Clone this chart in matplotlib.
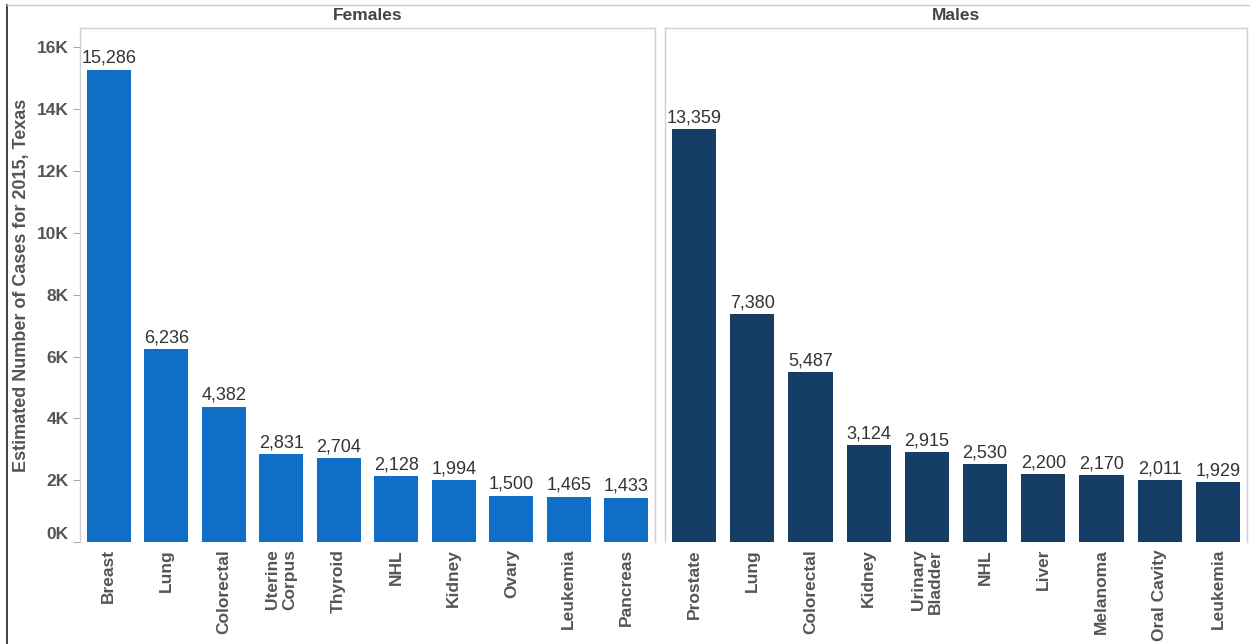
import matplotlib
matplotlib.use("Agg")
import numpy as np
import matplotlib.pyplot as plt
import matplotlib.transforms as mtransforms
from matplotlib.lines import Line2D
from matplotlib.ticker import FuncFormatter

plt.rcParams["font.family"] = ["Liberation Sans", "DejaVu Sans"]

female_sites = ["Breast", "Lung", "Colorectal", "Uterine\nCorpus", "Thyroid",
                "NHL", "Kidney", "Ovary", "Leukemia", "Pancreas"]
female_cases = [15286, 6236, 4382, 2831, 2704, 2128, 1994, 1500, 1465, 1433]

male_sites = ["Prostate", "Lung", "Colorectal", "Kidney", "Urinary\nBladder",
              "NHL", "Liver", "Melanoma", "Oral Cavity", "Leukemia"]
male_cases = [13359, 7380, 5487, 3124, 2915, 2530, 2200, 2170, 2011, 1929]

yticks = [0, 2000, 4000, 6000, 8000, 10000, 12000, 14000, 16000]

W, H = 1250, 644
fig = plt.figure(figsize=(W / 100, H / 100), dpi=100)

# panel rectangles in pixels: (left, right, top, bottom)
px_left = (80, 655, 28, 542)
px_right = (665, 1247, 28, 542)


def make_ax(r):
    l, rgt, t, b = r
    return fig.add_axes([l / W, (H - b) / H, (rgt - l) / W, (b - t) / H])


ax_f = make_ax(px_left)
ax_m = make_ax(px_right)

panels = [
    (ax_f, "Females", female_sites, female_cases, "#0F6FC6"),
    (ax_m, "Males", male_sites, male_cases, "#153D65"),
]

frame_col = "#d0d0d0"
for ax, title, sites, cases, col in panels:
    x = np.arange(len(sites))
    ax.bar(x, cases, width=0.76, color=col, zorder=2)
    for xi, v in zip(x, cases):
        ax.annotate(f"{v:,}", (xi, v), xytext=(0, 2), textcoords="offset points",
                    ha="center", va="bottom", fontsize=13, color="#333333")
    ax.set_xlim(-0.5, len(sites) - 0.5)
    ax.set_ylim(0, 16630)
    ax.set_xticks(x)
    ax.set_xticklabels(sites, rotation=90, ha="center", va="top",
                       multialignment="right", fontsize=12.5, fontweight="bold",
                       color="#555555", linespacing=1.2)
    ax.tick_params(axis="x", length=0, pad=5)
    for sp in ["top", "right", "left"]:
        ax.spines[sp].set_color(frame_col)
        ax.spines[sp].set_linewidth(1.0)
    ax.spines["bottom"].set_visible(False)
    ax.text(0.5, 1 + 13 / 514, title, transform=ax.transAxes, ha="center",
            va="center", fontsize=12.5, fontweight="bold", color="#444444")

ax_f.set_yticks(yticks)
ax_f.yaxis.set_major_formatter(FuncFormatter(lambda v, p: f"{int(v / 1000)}K"))
ax_f.tick_params(axis="y", length=5, color="#aaaaaa", labelsize=12.5,
                 labelcolor="#555555", pad=3)
for lbl in ax_f.get_yticklabels():
    lbl.set_fontweight("bold")
# lift the baseline label so it sits above the axis floor
zero_lbl = ax_f.get_yticklabels()[0]
zero_lbl.set_transform(zero_lbl.get_transform() +
                       mtransforms.ScaledTranslation(0, 9 / 100, fig.dpi_scale_trans))
ax_f.set_ylabel("Estimated Number of Cases for 2015, Texas", fontsize=13,
                fontweight="bold", color="#555555", labelpad=5)

ax_m.set_yticks([])
ax_m.spines["left"].set_color(frame_col)

# outer page lines
fig.add_artist(Line2D([7 / W, 7 / W], [0, 1 - 5 / H], color="#222222", lw=1.2))
fig.add_artist(Line2D([7 / W, 1], [1 - 5 / H, 1 - 5 / H], color="#cccccc", lw=1.0))

fig.savefig("out.png", dpi=100)
